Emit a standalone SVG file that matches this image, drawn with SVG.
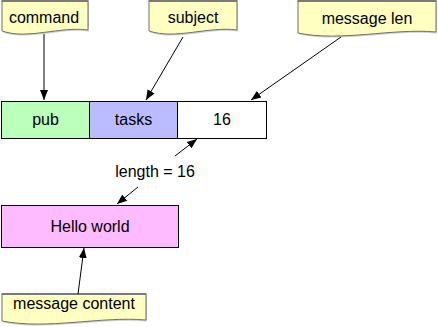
<svg xmlns="http://www.w3.org/2000/svg" width="438" height="327" viewBox="0 0 438 327">
<style>
text{font-family:"Liberation Sans",Arial,sans-serif;font-size:16px;fill:#000;text-anchor:middle}
.note{fill:#ffffc2;stroke:#707070;stroke-width:1}
.shadow{fill:#b0b0b0;stroke:none;opacity:0.6}
.top{stroke:#7a7a7a;stroke-width:2}
.box{stroke:#000;stroke-width:1}
.conn line{stroke:#000;stroke-width:1;marker-end:url(#ah)}
</style>
<defs>
<marker id="ah" viewBox="0 0 10 10" refX="10" refY="5" markerWidth="10" markerHeight="10" markerUnits="userSpaceOnUse" orient="auto">
<path d="M0,1 L10,5 L0,9 Z" fill="#000"/>
</marker>
</defs>
<rect width="438" height="327" fill="#fff"/>
<g id="note-command">
<path class="shadow" transform="translate(1,1.5)" d="M2,1 H88 V30 C60,26 28,40 2,31 Z"/>
<path class="note" d="M2,1 H88 V30 C60,26 28,40 2,31 Z"/>
<line class="top" x1="1.5" y1="1" x2="88.5" y2="1"/>
<text x="44" y="23">command</text>
</g>
<g id="note-subject">
<path class="shadow" transform="translate(1,1.5)" d="M149,1 H237 V30 C208,26 176,40 149,31 Z"/>
<path class="note" d="M149,1 H237 V30 C208,26 176,40 149,31 Z"/>
<line class="top" x1="148.5" y1="1" x2="237.5" y2="1"/>
<text x="193" y="23">subject</text>
</g>
<g id="note-msglen">
<path class="shadow" transform="translate(1,1.5)" d="M298,1 H436 V32 C392,28 341,42 298,33 Z"/>
<path class="note" d="M298,1 H436 V32 C392,28 341,42 298,33 Z"/>
<line class="top" x1="297.5" y1="1" x2="436.5" y2="1"/>
<text x="367" y="24">message len</text>
</g>
<g id="note-content">
<path class="shadow" transform="translate(1,1.5)" d="M2,294 H146 V320 C100,316 48,330 2,321 Z"/>
<path class="note" d="M2,294 H146 V320 C100,316 48,330 2,321 Z"/>
<line class="top" x1="1.5" y1="294" x2="146.5" y2="294"/>
<text x="74" y="309">message content</text>
</g>
<g id="box-pub">
<rect class="box" x="1.5" y="101.5" width="88" height="37" fill="#bbffbb"/>
<text x="45.5" y="125">pub</text>
</g>
<g id="box-tasks">
<rect class="box" x="89.5" y="101.5" width="88" height="37" fill="#bbbbff"/>
<text x="133.5" y="125">tasks</text>
</g>
<g id="box-len">
<rect class="box" x="177.5" y="101.5" width="89" height="37" fill="#ffffff"/>
<text x="222" y="125">16</text>
</g>
<g id="box-hello">
<rect class="box" x="1.5" y="205.5" width="177" height="42" fill="#ffbbff"/>
<text x="90" y="232">Hello world</text>
</g>
<g id="label-length">
<text x="155" y="177">length = 16</text>
</g>
<g id="connectors" class="conn">
<line x1="44" y1="34" x2="44" y2="100"/>
<line x1="183" y1="37" x2="146" y2="100"/>
<line x1="341" y1="37" x2="251" y2="100"/>
<line x1="175" y1="156" x2="197" y2="139"/>
<line x1="138" y1="187" x2="117" y2="204"/>
<line x1="78" y1="294" x2="84" y2="248"/>
</g>
</svg>
